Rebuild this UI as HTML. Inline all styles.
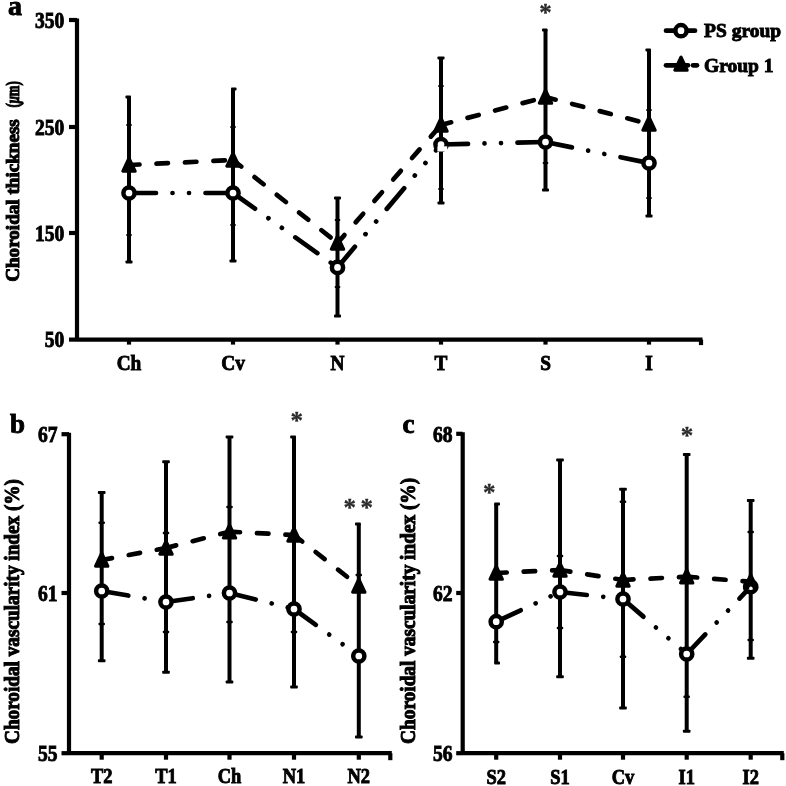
<!DOCTYPE html>
<html><head><meta charset="utf-8"><title>Figure</title>
<style>
html,body{margin:0;padding:0;background:#fff;}
body{width:786px;height:786px;overflow:hidden;}
svg{display:block;filter:blur(0.6px);}
svg text{font-family:"Liberation Serif",serif;font-weight:bold;fill:#000;stroke:#000;stroke-width:0.9px;}
</style></head><body>
<svg width="786" height="786" viewBox="0 0 786 786">
<rect width="786" height="786" fill="#fff"/>
<line x1="77" y1="18.5" x2="77" y2="341.1" stroke="#000" stroke-width="4.2"/>
<line x1="77" y1="339.6" x2="702.5" y2="339.6" stroke="#000" stroke-width="4.2"/>
<line x1="701" y1="339.6" x2="701" y2="345.1" stroke="#000" stroke-width="4.2"/>
<line x1="69" y1="20" x2="77" y2="20" stroke="#000" stroke-width="4.2"/>
<text transform="translate(64.3,27.6935) scale(0.875,1)" font-size="22.3" text-anchor="end">350</text>
<line x1="69" y1="127" x2="77" y2="127" stroke="#000" stroke-width="4.2"/>
<text transform="translate(64.3,134.6935) scale(0.875,1)" font-size="22.3" text-anchor="end">250</text>
<line x1="69" y1="233" x2="77" y2="233" stroke="#000" stroke-width="4.2"/>
<text transform="translate(64.3,240.6935) scale(0.875,1)" font-size="22.3" text-anchor="end">150</text>
<line x1="69" y1="339.6" x2="77" y2="339.6" stroke="#000" stroke-width="4.2"/>
<text transform="translate(64.3,347.2935) scale(0.875,1)" font-size="22.3" text-anchor="end">50</text>
<line x1="129" y1="339.6" x2="129" y2="344.6" stroke="#000" stroke-width="4.2"/>
<text transform="translate(129,370) scale(0.92,1)" font-size="21" text-anchor="middle">Ch</text>
<line x1="233" y1="339.6" x2="233" y2="344.6" stroke="#000" stroke-width="4.2"/>
<text transform="translate(233,370) scale(0.92,1)" font-size="21" text-anchor="middle">Cv</text>
<line x1="337.5" y1="339.6" x2="337.5" y2="344.6" stroke="#000" stroke-width="4.2"/>
<text transform="translate(337.5,370) scale(0.92,1)" font-size="21" text-anchor="middle">N</text>
<line x1="441" y1="339.6" x2="441" y2="344.6" stroke="#000" stroke-width="4.2"/>
<text transform="translate(441,370) scale(0.92,1)" font-size="21" text-anchor="middle">T</text>
<line x1="545.5" y1="339.6" x2="545.5" y2="344.6" stroke="#000" stroke-width="4.2"/>
<text transform="translate(545.5,370) scale(0.92,1)" font-size="21" text-anchor="middle">S</text>
<line x1="649" y1="339.6" x2="649" y2="344.6" stroke="#000" stroke-width="4.2"/>
<text transform="translate(649,370) scale(0.92,1)" font-size="21" text-anchor="middle">I</text>
<line x1="129" y1="97" x2="129" y2="262" stroke="#000" stroke-width="4.0"/>
<rect x="125.5" y="95.5" width="5.5" height="3" rx="0.8" fill="#000"/>
<rect x="125.5" y="260.5" width="7.0" height="3" rx="0.8" fill="#000"/>
<rect x="126.2" y="124.0" width="5.6" height="2" rx="0.8" fill="#000"/>
<rect x="126.2" y="234.0" width="5.6" height="2" rx="0.8" fill="#000"/>
<line x1="233" y1="89" x2="233" y2="261" stroke="#000" stroke-width="4.0"/>
<rect x="231.0" y="87.5" width="5.5" height="3" rx="0.8" fill="#000"/>
<rect x="229.5" y="259.5" width="7.0" height="3" rx="0.8" fill="#000"/>
<rect x="230.2" y="126.0" width="5.6" height="2" rx="0.8" fill="#000"/>
<rect x="230.2" y="224.0" width="5.6" height="2" rx="0.8" fill="#000"/>
<line x1="337.5" y1="198" x2="337.5" y2="316" stroke="#000" stroke-width="4.0"/>
<rect x="334.0" y="196.5" width="7.0" height="3" rx="0.8" fill="#000"/>
<rect x="334.0" y="314.5" width="7.0" height="3" rx="0.8" fill="#000"/>
<rect x="334.7" y="219.0" width="5.6" height="2" rx="0.8" fill="#000"/>
<rect x="334.7" y="286.0" width="5.6" height="2" rx="0.8" fill="#000"/>
<line x1="441" y1="58" x2="441" y2="203" stroke="#000" stroke-width="4.0"/>
<rect x="437.5" y="56.5" width="7.0" height="3" rx="0.8" fill="#000"/>
<rect x="437.5" y="201.5" width="7.0" height="3" rx="0.8" fill="#000"/>
<rect x="438.2" y="85.0" width="5.6" height="2" rx="0.8" fill="#000"/>
<rect x="438.2" y="188.0" width="5.6" height="2" rx="0.8" fill="#000"/>
<line x1="545.5" y1="30" x2="545.5" y2="190" stroke="#000" stroke-width="4.0"/>
<rect x="542.0" y="28.5" width="5.5" height="3" rx="0.8" fill="#000"/>
<rect x="542.0" y="188.5" width="7.0" height="3" rx="0.8" fill="#000"/>
<rect x="542.7" y="162.0" width="5.6" height="2" rx="0.8" fill="#000"/>
<line x1="649" y1="50" x2="649" y2="216" stroke="#000" stroke-width="4.0"/>
<rect x="645.5" y="48.5" width="5.5" height="3" rx="0.8" fill="#000"/>
<rect x="645.5" y="214.5" width="7.0" height="3" rx="0.8" fill="#000"/>
<rect x="646.2" y="109.0" width="5.6" height="2" rx="0.8" fill="#000"/>
<rect x="646.2" y="197.0" width="5.6" height="2" rx="0.8" fill="#000"/>
<line x1="129" y1="165" x2="233" y2="160" stroke="#000" stroke-width="4.7" stroke-linecap="round" stroke-dasharray="11.5 17" stroke-dashoffset="1"/>
<line x1="233" y1="160" x2="337.5" y2="243" stroke="#000" stroke-width="4.7" stroke-linecap="round" stroke-dasharray="11.5 17" stroke-dashoffset="1"/>
<line x1="337.5" y1="243" x2="441" y2="125" stroke="#000" stroke-width="4.7" stroke-linecap="round" stroke-dasharray="11.5 17" stroke-dashoffset="1"/>
<line x1="441" y1="125" x2="545.5" y2="97" stroke="#000" stroke-width="4.7" stroke-linecap="round" stroke-dasharray="11.5 17" stroke-dashoffset="1"/>
<line x1="545.5" y1="97" x2="649" y2="124" stroke="#000" stroke-width="4.7" stroke-linecap="round" stroke-dasharray="11.5 17" stroke-dashoffset="1"/>
<line x1="129" y1="193" x2="233" y2="193" stroke="#000" stroke-width="4.7" stroke-linecap="round" stroke-dasharray="27 16.5 0.01 16.5 0.01 16.5"/>
<line x1="233" y1="193" x2="337.5" y2="267.4" stroke="#000" stroke-width="4.7" stroke-linecap="round" stroke-dasharray="27 16.5 0.01 16.5 0.01 16.5"/>
<line x1="337.5" y1="267.4" x2="441" y2="144.5" stroke="#000" stroke-width="4.7" stroke-linecap="round" stroke-dasharray="27 16.5 0.01 16.5 0.01 16.5"/>
<line x1="441" y1="144.5" x2="545.5" y2="142" stroke="#000" stroke-width="4.7" stroke-linecap="round" stroke-dasharray="27 16.5 0.01 16.5 0.01 16.5"/>
<line x1="545.5" y1="142" x2="649" y2="163" stroke="#000" stroke-width="4.7" stroke-linecap="round" stroke-dasharray="27 16.5 0.01 16.5 0.01 16.5"/>
<circle cx="129" cy="193" r="5.6" fill="#fff" stroke="#000" stroke-width="4.5"/>
<circle cx="233" cy="193" r="5.6" fill="#fff" stroke="#000" stroke-width="4.5"/>
<circle cx="337.5" cy="267.4" r="5.6" fill="#fff" stroke="#000" stroke-width="4.5"/>
<circle cx="441" cy="144.5" r="5.6" fill="#fff" stroke="#000" stroke-width="4.5"/>
<circle cx="545.5" cy="142" r="5.6" fill="#fff" stroke="#000" stroke-width="4.5"/>
<circle cx="649" cy="163" r="5.6" fill="#fff" stroke="#000" stroke-width="4.5"/>
<polygon points="129,158.0 122.8,171.2 135.2,171.2" fill="#000" stroke="#000" stroke-width="3" stroke-linejoin="round"/>
<polygon points="233,153.0 226.8,166.2 239.2,166.2" fill="#000" stroke="#000" stroke-width="3" stroke-linejoin="round"/>
<polygon points="337.5,236.0 331.3,249.2 343.7,249.2" fill="#000" stroke="#000" stroke-width="3" stroke-linejoin="round"/>
<polygon points="441,118.0 434.8,131.2 447.2,131.2" fill="#000" stroke="#000" stroke-width="3" stroke-linejoin="round"/>
<polygon points="545.5,90.0 539.3,103.2 551.7,103.2" fill="#000" stroke="#000" stroke-width="3" stroke-linejoin="round"/>
<polygon points="649,117.0 642.8,130.2 655.2,130.2" fill="#000" stroke="#000" stroke-width="3" stroke-linejoin="round"/>
<text transform="translate(19,281.8) rotate(-90)" font-size="18" style="stroke-width:1px" text-anchor="start" textLength="162.6" lengthAdjust="spacingAndGlyphs">Choroidal thickness</text>
<text transform="translate(19,107.6) rotate(-90)" font-size="18" style="stroke-width:1px" text-anchor="start" textLength="26.3" lengthAdjust="spacingAndGlyphs">(<tspan font-style="italic">μ</tspan>m)</text>
<text transform="translate(8,15) scale(1.0,1)" font-size="28" text-anchor="start">a</text>
<line x1="69" y1="432.7" x2="69" y2="754.7" stroke="#000" stroke-width="4.2"/>
<line x1="69" y1="753.2" x2="391.8" y2="753.2" stroke="#000" stroke-width="4.2"/>
<line x1="390.3" y1="753.2" x2="390.3" y2="760.2" stroke="#000" stroke-width="4.2"/>
<line x1="61.5" y1="434.2" x2="69" y2="434.2" stroke="#000" stroke-width="4.2"/>
<text transform="translate(57.6,441.9625) scale(0.87,1)" font-size="22.5" text-anchor="end">67</text>
<line x1="61.5" y1="593" x2="69" y2="593" stroke="#000" stroke-width="4.2"/>
<text transform="translate(57.6,600.7625) scale(0.87,1)" font-size="22.5" text-anchor="end">61</text>
<line x1="61.5" y1="753.2" x2="69" y2="753.2" stroke="#000" stroke-width="4.2"/>
<text transform="translate(57.6,760.9625000000001) scale(0.87,1)" font-size="22.5" text-anchor="end">55</text>
<line x1="101.7" y1="753.2" x2="101.7" y2="759.7" stroke="#000" stroke-width="4.2"/>
<text transform="translate(101.7,783.4) scale(0.9,1)" font-size="20.5" text-anchor="middle">T2</text>
<line x1="166" y1="753.2" x2="166" y2="759.7" stroke="#000" stroke-width="4.2"/>
<text transform="translate(166,783.4) scale(0.9,1)" font-size="20.5" text-anchor="middle">T1</text>
<line x1="229.5" y1="753.2" x2="229.5" y2="759.7" stroke="#000" stroke-width="4.2"/>
<text transform="translate(229.5,783.4) scale(0.9,1)" font-size="20.5" text-anchor="middle">Ch</text>
<line x1="294" y1="753.2" x2="294" y2="759.7" stroke="#000" stroke-width="4.2"/>
<text transform="translate(294,783.4) scale(0.9,1)" font-size="20.5" text-anchor="middle">N1</text>
<line x1="358.8" y1="753.2" x2="358.8" y2="759.7" stroke="#000" stroke-width="4.2"/>
<text transform="translate(358.8,783.4) scale(0.9,1)" font-size="20.5" text-anchor="middle">N2</text>
<line x1="101.7" y1="492.5" x2="101.7" y2="660.7" stroke="#000" stroke-width="4.0"/>
<rect x="97.9" y="491.0" width="7.599999999999994" height="3" rx="0.8" fill="#000"/>
<rect x="97.9" y="659.2" width="7.599999999999994" height="3" rx="0.8" fill="#000"/>
<rect x="98.5" y="521.4000000000001" width="6.4" height="2.6" rx="0.8" fill="#000"/>
<rect x="98.5" y="622.7" width="6.4" height="2.6" rx="0.8" fill="#000"/>
<line x1="166" y1="461.7" x2="166" y2="672.3" stroke="#000" stroke-width="4.0"/>
<rect x="162.2" y="460.2" width="7.600000000000023" height="3" rx="0.8" fill="#000"/>
<rect x="162.2" y="670.8" width="7.600000000000023" height="3" rx="0.8" fill="#000"/>
<rect x="162.8" y="531.7" width="6.4" height="2.6" rx="0.8" fill="#000"/>
<rect x="162.8" y="630.7" width="6.4" height="2.6" rx="0.8" fill="#000"/>
<line x1="229.5" y1="437" x2="229.5" y2="682" stroke="#000" stroke-width="4.0"/>
<rect x="225.7" y="435.5" width="7.600000000000023" height="3" rx="0.8" fill="#000"/>
<rect x="225.7" y="680.5" width="7.600000000000023" height="3" rx="0.8" fill="#000"/>
<rect x="226.3" y="505.7" width="6.4" height="2.6" rx="0.8" fill="#000"/>
<rect x="226.3" y="620.7" width="6.4" height="2.6" rx="0.8" fill="#000"/>
<line x1="294" y1="437" x2="294" y2="687" stroke="#000" stroke-width="4.0"/>
<rect x="290.2" y="435.5" width="5.800000000000011" height="3" rx="0.8" fill="#000"/>
<rect x="290.2" y="685.5" width="7.600000000000023" height="3" rx="0.8" fill="#000"/>
<rect x="290.8" y="630.7" width="6.4" height="2.6" rx="0.8" fill="#000"/>
<line x1="358.8" y1="524" x2="358.8" y2="737" stroke="#000" stroke-width="4.0"/>
<rect x="355.0" y="522.5" width="5.800000000000011" height="3" rx="0.8" fill="#000"/>
<rect x="355.0" y="735.5" width="7.600000000000023" height="3" rx="0.8" fill="#000"/>
<rect x="355.6" y="573.7" width="6.4" height="2.6" rx="0.8" fill="#000"/>
<line x1="101.7" y1="560" x2="166" y2="548" stroke="#000" stroke-width="4.7" stroke-linecap="round" stroke-dasharray="11.5 17" stroke-dashoffset="1"/>
<line x1="166" y1="548" x2="229.5" y2="531.7" stroke="#000" stroke-width="4.7" stroke-linecap="round" stroke-dasharray="11.5 17" stroke-dashoffset="1"/>
<line x1="229.5" y1="531.7" x2="294" y2="535" stroke="#000" stroke-width="4.7" stroke-linecap="round" stroke-dasharray="11.5 17" stroke-dashoffset="1"/>
<line x1="294" y1="535" x2="358.8" y2="586" stroke="#000" stroke-width="4.7" stroke-linecap="round" stroke-dasharray="11.5 17" stroke-dashoffset="1"/>
<line x1="101.7" y1="591" x2="166" y2="602" stroke="#000" stroke-width="4.7" stroke-linecap="round" stroke-dasharray="27 16.5 0.01 16.5 0.01 16.5"/>
<line x1="166" y1="602" x2="229.5" y2="593" stroke="#000" stroke-width="4.7" stroke-linecap="round" stroke-dasharray="27 16.5 0.01 16.5 0.01 16.5"/>
<line x1="229.5" y1="593" x2="294" y2="609" stroke="#000" stroke-width="4.7" stroke-linecap="round" stroke-dasharray="27 16.5 0.01 16.5 0.01 16.5"/>
<line x1="294" y1="609" x2="358.8" y2="656" stroke="#000" stroke-width="4.7" stroke-linecap="round" stroke-dasharray="27 16.5 0.01 16.5 0.01 16.5"/>
<circle cx="101.7" cy="591" r="5.6" fill="#fff" stroke="#000" stroke-width="4.5"/>
<circle cx="166" cy="602" r="5.6" fill="#fff" stroke="#000" stroke-width="4.5"/>
<circle cx="229.5" cy="593" r="5.6" fill="#fff" stroke="#000" stroke-width="4.5"/>
<circle cx="294" cy="609" r="5.6" fill="#fff" stroke="#000" stroke-width="4.5"/>
<circle cx="358.8" cy="656" r="5.6" fill="#fff" stroke="#000" stroke-width="4.5"/>
<polygon points="101.7,553.0 95.5,566.2 107.9,566.2" fill="#000" stroke="#000" stroke-width="3" stroke-linejoin="round"/>
<polygon points="166,541.0 159.8,554.2 172.2,554.2" fill="#000" stroke="#000" stroke-width="3" stroke-linejoin="round"/>
<polygon points="229.5,524.7 223.3,537.9000000000001 235.7,537.9000000000001" fill="#000" stroke="#000" stroke-width="3" stroke-linejoin="round"/>
<polygon points="294,528.0 287.8,541.2 300.2,541.2" fill="#000" stroke="#000" stroke-width="3" stroke-linejoin="round"/>
<polygon points="358.8,579.0 352.6,592.2 365.0,592.2" fill="#000" stroke="#000" stroke-width="3" stroke-linejoin="round"/>
<text transform="translate(19,611.5) rotate(-90)" font-size="20.5" style="stroke-width:1px" text-anchor="middle" textLength="265" lengthAdjust="spacingAndGlyphs">Choroidal vascularity index (%)</text>
<text transform="translate(10,432.5) scale(1.0,1)" font-size="27" text-anchor="start">b</text>
<line x1="462.7" y1="432.3" x2="462.7" y2="754.7" stroke="#000" stroke-width="4.2"/>
<line x1="462.7" y1="753.2" x2="783.8" y2="753.2" stroke="#000" stroke-width="4.2"/>
<line x1="782.3" y1="753.2" x2="782.3" y2="760.2" stroke="#000" stroke-width="4.2"/>
<line x1="456.2" y1="433.8" x2="462.7" y2="433.8" stroke="#000" stroke-width="4.2"/>
<text transform="translate(452.5,441.5625) scale(0.87,1)" font-size="22.5" text-anchor="end">68</text>
<line x1="456.2" y1="593" x2="462.7" y2="593" stroke="#000" stroke-width="4.2"/>
<text transform="translate(452.5,600.7625) scale(0.87,1)" font-size="22.5" text-anchor="end">62</text>
<line x1="456.2" y1="753.2" x2="462.7" y2="753.2" stroke="#000" stroke-width="4.2"/>
<text transform="translate(452.5,760.9625000000001) scale(0.87,1)" font-size="22.5" text-anchor="end">56</text>
<line x1="496.2" y1="753.2" x2="496.2" y2="759.7" stroke="#000" stroke-width="4.2"/>
<text transform="translate(496.2,783.7) scale(0.9,1)" font-size="20.5" text-anchor="middle">S2</text>
<line x1="560" y1="753.2" x2="560" y2="759.7" stroke="#000" stroke-width="4.2"/>
<text transform="translate(560,783.7) scale(0.9,1)" font-size="20.5" text-anchor="middle">S1</text>
<line x1="623" y1="753.2" x2="623" y2="759.7" stroke="#000" stroke-width="4.2"/>
<text transform="translate(623,783.7) scale(0.9,1)" font-size="20.5" text-anchor="middle">Cv</text>
<line x1="686.7" y1="753.2" x2="686.7" y2="759.7" stroke="#000" stroke-width="4.2"/>
<text transform="translate(686.7,783.7) scale(0.9,1)" font-size="20.5" text-anchor="middle">I1</text>
<line x1="750.7" y1="753.2" x2="750.7" y2="759.7" stroke="#000" stroke-width="4.2"/>
<text transform="translate(750.7,783.7) scale(0.9,1)" font-size="20.5" text-anchor="middle">I2</text>
<line x1="496.2" y1="504" x2="496.2" y2="663" stroke="#000" stroke-width="4.0"/>
<rect x="494.2" y="502.5" width="5.800000000000011" height="3" rx="0.8" fill="#000"/>
<rect x="494.2" y="661.5" width="5.800000000000011" height="3" rx="0.8" fill="#000"/>
<rect x="493.0" y="640.7" width="6.4" height="2.6" rx="0.8" fill="#000"/>
<line x1="560" y1="460" x2="560" y2="676.7" stroke="#000" stroke-width="4.0"/>
<rect x="556.2" y="458.5" width="7.599999999999909" height="3" rx="0.8" fill="#000"/>
<rect x="556.2" y="675.2" width="7.599999999999909" height="3" rx="0.8" fill="#000"/>
<rect x="556.8" y="554.7" width="6.4" height="2.6" rx="0.8" fill="#000"/>
<rect x="556.8" y="626.7" width="6.4" height="2.6" rx="0.8" fill="#000"/>
<line x1="623" y1="489.3" x2="623" y2="708" stroke="#000" stroke-width="4.0"/>
<rect x="619.2" y="487.8" width="7.599999999999909" height="3" rx="0.8" fill="#000"/>
<rect x="619.2" y="706.5" width="7.599999999999909" height="3" rx="0.8" fill="#000"/>
<rect x="619.8" y="500.4" width="6.4" height="2.6" rx="0.8" fill="#000"/>
<rect x="619.8" y="655.4000000000001" width="6.4" height="2.6" rx="0.8" fill="#000"/>
<line x1="686.7" y1="454.5" x2="686.7" y2="731.3" stroke="#000" stroke-width="4.0"/>
<rect x="682.9000000000001" y="453.0" width="7.599999999999909" height="3" rx="0.8" fill="#000"/>
<rect x="682.9000000000001" y="729.8" width="7.599999999999909" height="3" rx="0.8" fill="#000"/>
<rect x="683.5" y="695.4000000000001" width="6.4" height="2.6" rx="0.8" fill="#000"/>
<line x1="750.7" y1="500.5" x2="750.7" y2="658.3" stroke="#000" stroke-width="4.0"/>
<rect x="746.9000000000001" y="499.0" width="7.599999999999909" height="3" rx="0.8" fill="#000"/>
<rect x="746.9000000000001" y="656.8" width="7.599999999999909" height="3" rx="0.8" fill="#000"/>
<rect x="747.5" y="530.7" width="6.4" height="2.6" rx="0.8" fill="#000"/>
<rect x="747.5" y="638.7" width="6.4" height="2.6" rx="0.8" fill="#000"/>
<line x1="496.2" y1="573" x2="560" y2="570" stroke="#000" stroke-width="4.7" stroke-linecap="round" stroke-dasharray="11.5 17" stroke-dashoffset="1"/>
<line x1="560" y1="570" x2="623" y2="580" stroke="#000" stroke-width="4.7" stroke-linecap="round" stroke-dasharray="11.5 17" stroke-dashoffset="1"/>
<line x1="623" y1="580" x2="686.7" y2="576.7" stroke="#000" stroke-width="4.7" stroke-linecap="round" stroke-dasharray="11.5 17" stroke-dashoffset="1"/>
<line x1="686.7" y1="576.7" x2="750.7" y2="581.7" stroke="#000" stroke-width="4.7" stroke-linecap="round" stroke-dasharray="11.5 17" stroke-dashoffset="1"/>
<line x1="496.2" y1="621.7" x2="560" y2="592" stroke="#000" stroke-width="4.7" stroke-linecap="round" stroke-dasharray="27 16.5 0.01 16.5 0.01 16.5"/>
<line x1="560" y1="592" x2="623" y2="599" stroke="#000" stroke-width="4.7" stroke-linecap="round" stroke-dasharray="27 16.5 0.01 16.5 0.01 16.5"/>
<line x1="623" y1="599" x2="686.7" y2="654" stroke="#000" stroke-width="4.7" stroke-linecap="round" stroke-dasharray="27 16.5 0.01 16.5 0.01 16.5"/>
<line x1="686.7" y1="654" x2="750.7" y2="586.7" stroke="#000" stroke-width="4.7" stroke-linecap="round" stroke-dasharray="27 16.5 0.01 16.5 0.01 16.5"/>
<circle cx="496.2" cy="621.7" r="5.6" fill="#fff" stroke="#000" stroke-width="4.5"/>
<circle cx="560" cy="592" r="5.6" fill="#fff" stroke="#000" stroke-width="4.5"/>
<circle cx="623" cy="599" r="5.6" fill="#fff" stroke="#000" stroke-width="4.5"/>
<circle cx="686.7" cy="654" r="5.6" fill="#fff" stroke="#000" stroke-width="4.5"/>
<circle cx="750.7" cy="586.7" r="5.6" fill="#fff" stroke="#000" stroke-width="4.5"/>
<polygon points="496.2,566.0 490.0,579.2 502.4,579.2" fill="#000" stroke="#000" stroke-width="3" stroke-linejoin="round"/>
<polygon points="560,563.0 553.8,576.2 566.2,576.2" fill="#000" stroke="#000" stroke-width="3" stroke-linejoin="round"/>
<polygon points="623,573.0 616.8,586.2 629.2,586.2" fill="#000" stroke="#000" stroke-width="3" stroke-linejoin="round"/>
<polygon points="686.7,569.7 680.5,582.9000000000001 692.9000000000001,582.9000000000001" fill="#000" stroke="#000" stroke-width="3" stroke-linejoin="round"/>
<polygon points="750.7,574.7 744.5,587.9000000000001 756.9000000000001,587.9000000000001" fill="#000" stroke="#000" stroke-width="3" stroke-linejoin="round"/>
<text transform="translate(414.5,610.9) rotate(-90)" font-size="20" style="stroke-width:1px" text-anchor="middle" textLength="266" lengthAdjust="spacingAndGlyphs">Choroidal vascularity index (%)</text>
<text transform="translate(402.5,432.5) scale(1.0,1)" font-size="27" text-anchor="start">c</text>
<rect x="437.4" y="146.3" width="9.8" height="5.2" fill="#fff"/>
<circle cx="750.9" cy="588.2" r="1.7" fill="#fff"/>
<text x="545.5" y="20.5" font-size="25" text-anchor="middle" letter-spacing="0" style="fill:#2a2a2a;stroke:#2a2a2a;stroke-width:0.3px">*</text>
<text x="296.8" y="429" font-size="25" text-anchor="middle" letter-spacing="0" style="fill:#2a2a2a;stroke:#2a2a2a;stroke-width:0.3px">*</text>
<text x="360.5" y="516" font-size="25" text-anchor="middle" letter-spacing="4.5" style="fill:#2a2a2a;stroke:#2a2a2a;stroke-width:0.3px">**</text>
<text x="489.2" y="501" font-size="25" text-anchor="middle" letter-spacing="0" style="fill:#2a2a2a;stroke:#2a2a2a;stroke-width:0.3px">*</text>
<text x="687" y="444" font-size="25" text-anchor="middle" letter-spacing="0" style="fill:#2a2a2a;stroke:#2a2a2a;stroke-width:0.3px">*</text>
<line x1="666" y1="30.7" x2="695" y2="30.7" stroke="#000" stroke-width="4.7" stroke-linecap="round"/>
<circle cx="681" cy="30.7" r="5.6" fill="#fff" stroke="#000" stroke-width="4.5"/>
<line x1="666" y1="65.3" x2="688" y2="65.3" stroke="#000" stroke-width="4.7" stroke-linecap="round"/>
<line x1="693" y1="65.3" x2="697" y2="65.3" stroke="#000" stroke-width="4.7" stroke-linecap="round"/>
<polygon points="681,57.0 674.8,70.2 687.2,70.2" fill="#000" stroke="#000" stroke-width="3" stroke-linejoin="round"/>
<text transform="translate(704,37) scale(1.0,1)" font-size="19.5" text-anchor="start">PS group</text>
<text transform="translate(704,71.5) scale(1.0,1)" font-size="19.5" text-anchor="start">Group 1</text>
</svg>
</body></html>
